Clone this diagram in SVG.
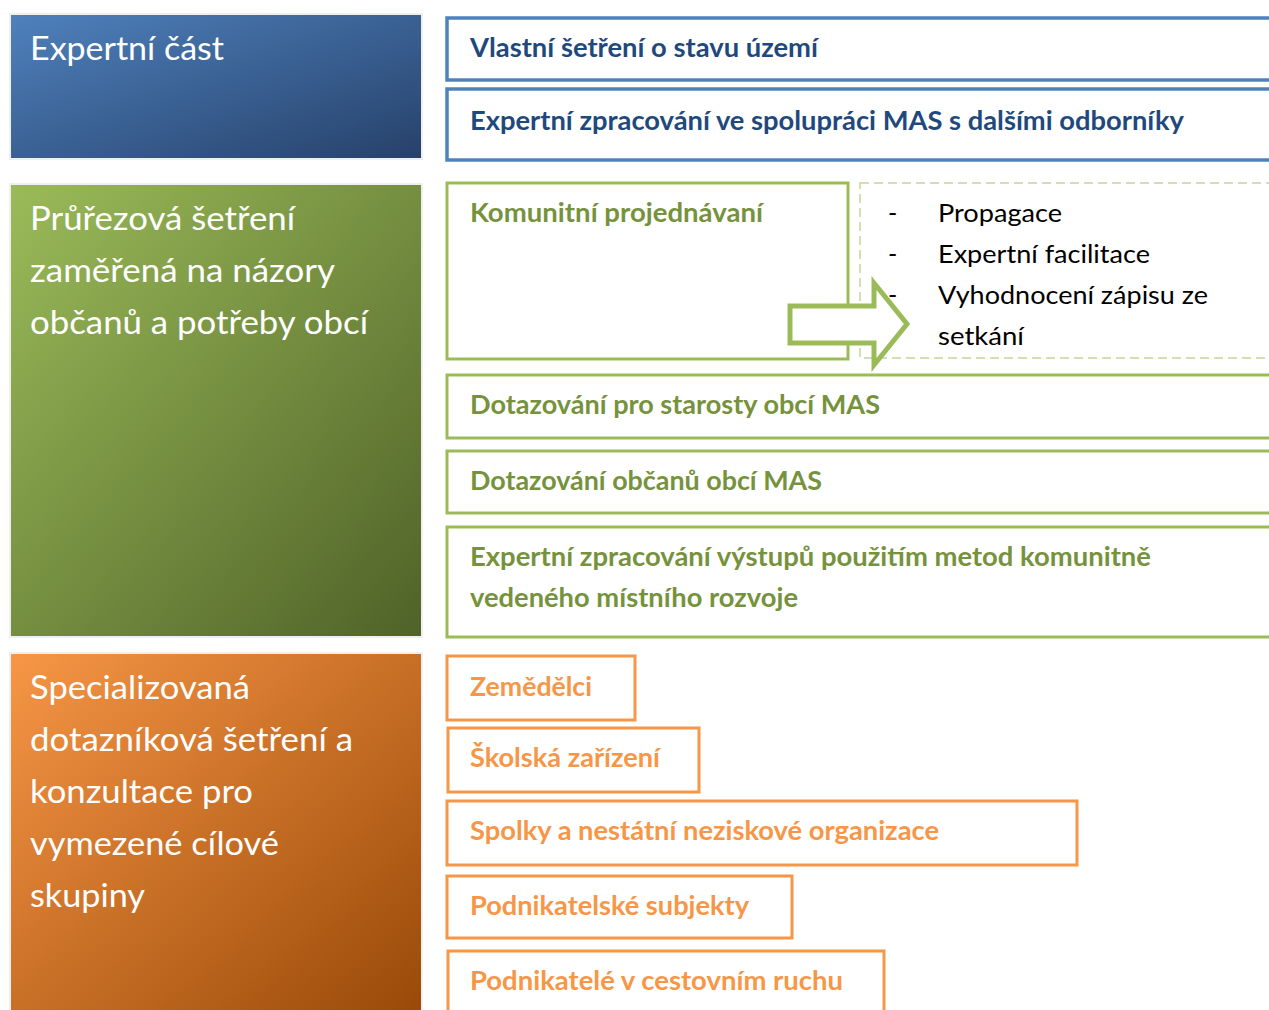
<svg xmlns="http://www.w3.org/2000/svg" width="1269" height="1010" viewBox="0 0 1269 1010">
<defs>
<linearGradient id="gBlue" x1="0" y1="0" x2="1" y2="1"><stop offset="0" stop-color="#4f81bd"/><stop offset="1" stop-color="#26416a"/></linearGradient>
<linearGradient id="gGreen" x1="0" y1="0" x2="1" y2="1"><stop offset="0" stop-color="#9bbb59"/><stop offset="1" stop-color="#4f6228"/></linearGradient>
<linearGradient id="gOrange" x1="0" y1="0" x2="1" y2="1"><stop offset="0" stop-color="#f79646"/><stop offset="1" stop-color="#984807"/></linearGradient>
</defs>
<style>
.big{font-family:Lato,"Liberation Sans",sans-serif;font-size:33px;fill:#ffffff}
.lbl{font-family:Lato,"Liberation Sans",sans-serif;font-size:26px;font-weight:bold}
.txt{font-family:Lato,"Liberation Sans",sans-serif;font-size:25px;fill:#000000}
.side{stroke:#efefef;stroke-width:2}
.bb{fill:#ffffff;stroke:#4f81bd;stroke-width:3.5}
.gb{fill:#ffffff;stroke:#9bbb59;stroke-width:3}
.ob{fill:#ffffff;stroke:#f79646;stroke-width:3}
.bt{fill:#1f497d}
.gt{fill:#76923c}
.ot{fill:#f79646}
</style>
<rect width="1269" height="1010" fill="#ffffff"/>

<g id="expertni-cast">
<rect class="side" x="10" y="14" width="412" height="145" fill="url(#gBlue)"/>
<text class="big" x="30" y="60" textLength="194" lengthAdjust="spacingAndGlyphs">Expertní část</text>
</g>
<g id="prurezova-setreni">
<rect class="side" x="10" y="184" width="412" height="453" fill="url(#gGreen)"/>
<text class="big" x="30" y="230" textLength="265" lengthAdjust="spacingAndGlyphs">Průřezová šetření</text>
<text class="big" x="30" y="282" textLength="305" lengthAdjust="spacingAndGlyphs">zaměřená na názory</text>
<text class="big" x="30" y="334" textLength="338" lengthAdjust="spacingAndGlyphs">občanů a potřeby obcí</text>
</g>
<g id="specializovana-setreni">
<rect class="side" x="10" y="653" width="412" height="370" fill="url(#gOrange)"/>
<text class="big" x="30" y="699" textLength="220" lengthAdjust="spacingAndGlyphs">Specializovaná</text>
<text class="big" x="30" y="751" textLength="323" lengthAdjust="spacingAndGlyphs">dotazníková šetření a</text>
<text class="big" x="30" y="803" textLength="223" lengthAdjust="spacingAndGlyphs">konzultace pro</text>
<text class="big" x="30" y="855" textLength="249" lengthAdjust="spacingAndGlyphs">vymezené cílové</text>
<text class="big" x="30" y="907" textLength="115" lengthAdjust="spacingAndGlyphs">skupiny</text>
</g>

<g id="vlastni-setreni">
<rect class="bb" x="447" y="18" width="840" height="62"/>
<text class="lbl bt" x="470" y="57" textLength="348" lengthAdjust="spacingAndGlyphs">Vlastní šetření o stavu území</text>
</g>
<g id="expertni-zpracovani-mas">
<rect class="bb" x="447" y="89" width="840" height="71"/>
<text class="lbl bt" x="470" y="130" textLength="714" lengthAdjust="spacingAndGlyphs">Expertní zpracování ve spolupráci MAS s dalšími odborníky</text>
</g>

<g id="komunitni-projednavani">
<rect class="gb" x="447" y="183" width="401" height="176"/>
<text class="lbl gt" x="470" y="222" textLength="293" lengthAdjust="spacingAndGlyphs">Komunitní projednávaní</text>
</g>
<g id="komunitni-body">
<rect x="860" y="183" width="430" height="175" fill="none" stroke="#d0e0b0" stroke-width="2" stroke-dasharray="9,5"/>
</g>

<g id="connectors">
<path d="M790,306 L874,306 L874,283 L907,324 L874,365 L874,343 L790,343 Z" fill="#ffffff" stroke="#9bbb59" stroke-width="5" stroke-linejoin="miter"/>
</g>

<g id="komunitni-body-text">
<text class="txt" x="888" y="222">-</text>
<text class="txt" x="938" y="222" textLength="124" lengthAdjust="spacingAndGlyphs">Propagace</text>
<text class="txt" x="888" y="263">-</text>
<text class="txt" x="938" y="263" textLength="212" lengthAdjust="spacingAndGlyphs">Expertní facilitace</text>
<text class="txt" x="888" y="304">-</text>
<text class="txt" x="938" y="304" textLength="270" lengthAdjust="spacingAndGlyphs">Vyhodnocení zápisu ze</text>
<text class="txt" x="938" y="345" textLength="86" lengthAdjust="spacingAndGlyphs">setkání</text>
</g>

<g id="dotazovani-starosty">
<rect class="gb" x="447" y="375" width="840" height="63"/>
<text class="lbl gt" x="470" y="414" textLength="410" lengthAdjust="spacingAndGlyphs">Dotazování pro starosty obcí MAS</text>
</g>
<g id="dotazovani-obcanu">
<rect class="gb" x="447" y="451" width="840" height="62"/>
<text class="lbl gt" x="470" y="490" textLength="352" lengthAdjust="spacingAndGlyphs">Dotazování občanů obcí MAS</text>
</g>
<g id="expertni-zpracovani-vystupu">
<rect class="gb" x="447" y="527" width="840" height="110"/>
<text class="lbl gt" x="470" y="566" textLength="681" lengthAdjust="spacingAndGlyphs">Expertní zpracování výstupů použitím metod komunitně</text>
<text class="lbl gt" x="470" y="607" textLength="328" lengthAdjust="spacingAndGlyphs">vedeného místního rozvoje</text>
</g>

<g id="zemedelci">
<rect class="ob" x="447" y="656" width="188" height="64"/>
<text class="lbl ot" x="470" y="696" textLength="122" lengthAdjust="spacingAndGlyphs">Zemědělci</text>
</g>
<g id="skolska-zarizeni">
<rect class="ob" x="448" y="728" width="251" height="64"/>
<text class="lbl ot" x="470" y="767" textLength="190" lengthAdjust="spacingAndGlyphs">Školská zařízení</text>
</g>
<g id="spolky">
<rect class="ob" x="447" y="801" width="630" height="64"/>
<text class="lbl ot" x="470" y="840" textLength="469" lengthAdjust="spacingAndGlyphs">Spolky a nestátní neziskové organizace</text>
</g>
<g id="podnikatelske-subjekty">
<rect class="ob" x="447" y="876" width="345" height="62"/>
<text class="lbl ot" x="470" y="915" textLength="279" lengthAdjust="spacingAndGlyphs">Podnikatelské subjekty</text>
</g>
<g id="podnikatele-cestovni-ruch">
<rect class="ob" x="448" y="951" width="436" height="80"/>
<text class="lbl ot" x="470" y="990" textLength="373" lengthAdjust="spacingAndGlyphs">Podnikatelé v cestovním ruchu</text>
</g>
</svg>
